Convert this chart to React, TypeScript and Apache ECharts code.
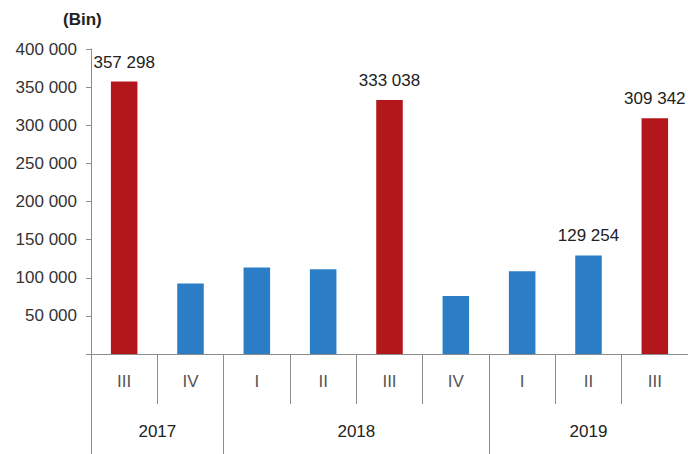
import React, { useEffect, useRef } from "react";
import * as echarts from "echarts";

const quarters = ["III", "IV", "I", "II", "III", "IV", "I", "II", "III"];
const values = [357298, 92500, 113500, 111000, 333038, 76000, 108500, 129254, 309342];
const highlighted = [true, false, false, false, true, false, false, false, true];
const labelled = [true, false, false, false, true, false, false, true, true];
const years = ["2017", "2018", "2019"];
const yearSpans = [2, 4, 3];
const yTicks = [0, 50000, 100000, 150000, 200000, 250000, 300000, 350000, 400000];

const RED = "#B3161B";
const BLUE = "#2B7EC6";
const FONT = "Liberation Sans, Arial, sans-serif";
const FS = 17;

const fmt = (v: number) =>
  Math.round(v)
    .toString()
    .replace(/\B(?=(\d{3})+(?!\d))/g, " ");

export default function App() {
  const ref = useRef<HTMLDivElement>(null);
  useEffect(() => {
    document.body.style.margin = "0";
    if (!ref.current) return;
    const chart = echarts.init(ref.current, null, { renderer: "svg" });

    const boundaries: number[] = [0];
    const centers: number[] = [];
    yearSpans.forEach((s) => {
      const start = boundaries[boundaries.length - 1];
      centers.push(start + s / 2);
      boundaries.push(start + s);
    });

    chart.setOption({
      animation: false,
      title: {
        text: "(Bin)",
        left: 58,
        top: 6,
        textStyle: { fontFamily: FONT, fontSize: FS, fontWeight: "bold", color: "#222" },
      },
      grid: { left: 91, right: -4, top: 49, bottom: 100, containLabel: false },
      xAxis: [
        {
          type: "category",
          data: quarters,
          position: "bottom",
          axisLine: { show: true, lineStyle: { color: "#8c8c8c", width: 1 } },
          axisTick: {
            show: true,
            interval: 0,
            alignWithLabel: false,
            length: 50,
            lineStyle: { color: "#8c8c8c" },
          },
          axisLabel: {
            interval: 0,
            margin: 19,
            fontFamily: FONT,
            fontSize: FS,
            color: "#555",
          },
        },
        {
          type: "value",
          min: 0,
          max: quarters.length,
          position: "bottom",
          axisLine: { show: false },
          splitLine: { show: false },
          axisTick: {
            show: true,
            customValues: boundaries,
            length: 100,
            lineStyle: { color: "#8c8c8c" },
          },
          axisLabel: {
            show: true,
            customValues: centers,
            margin: 69,
            fontFamily: FONT,
            fontSize: FS,
            color: "#222",
            formatter: (v: number) => {
              const i = centers.findIndex((c) => Math.abs(c - v) < 1e-6);
              return i >= 0 ? years[i] : "";
            },
          },
        },
      ],
      yAxis: {
        type: "value",
        min: 0,
        max: 400000,
        interval: 50000,
        axisLine: { show: true, lineStyle: { color: "#8c8c8c" } },
        axisTick: { show: true, length: 5, lineStyle: { color: "#8c8c8c" } },
        splitLine: { show: false },
        axisLabel: {
          margin: 14,
          fontFamily: FONT,
          fontSize: FS,
          color: "#333",
          customValues: yTicks,
          formatter: (v: number) => (v === 0 ? "" : fmt(v)),
        },
      },
      series: [
        {
          type: "bar",
          xAxisIndex: 0,
          barWidth: "40%",
          data: values.map((v, i) => ({
            value: v,
            itemStyle: { color: highlighted[i] ? RED : BLUE },
            label: {
              show: labelled[i],
              position: "top",
              distance: 11,
              formatter: (p: any) => fmt(p.value),
              fontFamily: FONT,
              fontSize: FS,
              color: "#222",
            },
          })),
        },
      ],
    });
    return () => chart.dispose();
  }, []);
  return <div ref={ref} style={{ width: 688, height: 454 }} />;
}
